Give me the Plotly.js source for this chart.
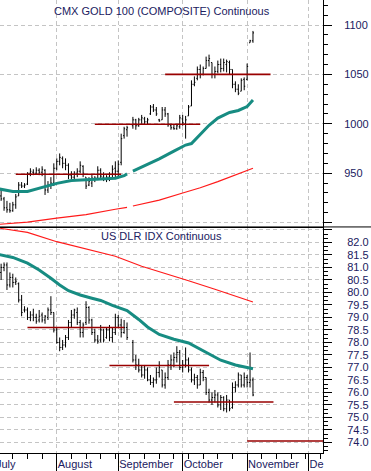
<!DOCTYPE html>
<html>
<head>
<meta charset="utf-8">
<script src="https://cdn.plot.ly/plotly-3.0.1.min.js"></script>
<style>html,body{margin:0;padding:0;background:#fff;}#chart{width:371px;height:471px;}</style>
</head>
<body>
<div id="chart"></div>
<script>
// ---- trading days ----
const dates = [
'2009-07-06','2009-07-07','2009-07-08','2009-07-09','2009-07-10','2009-07-13','2009-07-14','2009-07-15','2009-07-16','2009-07-17',
'2009-07-20','2009-07-21','2009-07-22','2009-07-23','2009-07-24','2009-07-27','2009-07-28','2009-07-29','2009-07-30','2009-07-31',
'2009-08-03','2009-08-04','2009-08-05','2009-08-06','2009-08-07','2009-08-10','2009-08-11','2009-08-12','2009-08-13','2009-08-14',
'2009-08-17','2009-08-18','2009-08-19','2009-08-20','2009-08-21','2009-08-24','2009-08-25','2009-08-26','2009-08-27','2009-08-28',
'2009-08-31','2009-09-01','2009-09-02','2009-09-03','2009-09-04','2009-09-07','2009-09-08','2009-09-09','2009-09-10','2009-09-11',
'2009-09-14','2009-09-15','2009-09-16','2009-09-17','2009-09-18','2009-09-21','2009-09-22','2009-09-23','2009-09-24','2009-09-25',
'2009-09-28','2009-09-29','2009-09-30','2009-10-01','2009-10-02','2009-10-05','2009-10-06','2009-10-07','2009-10-08','2009-10-09',
'2009-10-12','2009-10-13','2009-10-14','2009-10-15','2009-10-16','2009-10-19','2009-10-20','2009-10-21','2009-10-22','2009-10-23',
'2009-10-26','2009-10-27','2009-10-28','2009-10-29','2009-10-30','2009-11-02','2009-11-03','2009-11-04'];

// ---- CMX GOLD (top panel) ----
const goldOpen = [933,927,924,915,913,912,918,927,938,937, 939,950,951,950,953,951,953,933,938,940,
 955,962,965,960,958,948,946,950,952,957, 946,938,940,944,945,953,946,944,946,949,
 955,952,961,988,994,null,998,1004,998,1004, 1005,1002,1010,1017,1014,1004,1004,1014,1010,998,
 996,995,997,1005,1000,1008,1018,1040,1046,1055, 1050,1056,1064,1062,1050,1053,1060,1056,1060,1062,
 1055,1040,1035,1033,1045,1045,1082,1084];
const goldHigh = [935,933,926,922,920,921,929,941,941,940, 951,955,954,956,955,957,954,942,946,960,
 965,970,967,965,960,952,952,955,962,958, 946,946,949,947,957,955,951,948,951,958,
 962,963,990,997,998,null,1007,1005,1006,1009, 1007,1006,1019,1020,1017,1005,1017,1017,1011,1000,
 999,1000,1009,1009,1008,1019,1044,1048,1058,1060, 1058,1068,1070,1062,1058,1064,1066,1066,1065,1064,
 1055,1043,1040,1046,1047,1061,1085,1094];
const goldLow = [925,922,912,910,910,911,914,927,935,935, 938,947,948,949,948,947,928,930,934,937,
 953,958,955,953,944,944,944,946,950,946, 934,937,936,941,943,944,942,941,942,946,
 944,946,958,985,987,null,995,994,997,1000, 999,999,1009,1012,1008,1002,1004,1007,997,994,
 994,994,995,998,985,1008,1018,1038,1044,1046, 1049,1056,1058,1046,1046,1051,1052,1053,1052,1050,
 1036,1032,1029,1033,1034,1044,1082,1082];
const goldClose = [927,924,915,913,912,918,926,938,937,938, 950,952,950,953,951,954,933,938,940,955,
 962,966,960,958,948,946,950,952,958,950, 937,942,945,945,953,947,944,946,949,954,
 952,959,985,995,996,null,1004,998,1004,1006, 1002,1004,1017,1014,1010,1003,1014,1010,999,996,
 995,998,1006,1001,1004,1017,1040,1042,1055,1050, 1056,1064,1066,1050,1053,1060,1056,1062,1063,1055,
 1040,1035,1031,1044,1038,1058,1084,1092];

// gold 50-day (teal) and 200-day (red) averages
const goldMa50Dates = ['2009-07-06','2009-07-13','2009-07-20','2009-07-27','2009-08-03','2009-08-10','2009-08-17','2009-08-24','2009-08-31','2009-09-03','2009-09-04','2009-09-07',
 '2009-09-08','2009-09-14','2009-09-21','2009-09-28','2009-10-02','2009-10-06','2009-10-09','2009-10-14','2009-10-19','2009-10-23','2009-10-28','2009-11-02','2009-11-04'];
const goldMa50 = [934.2,931.5,931.6,935.5,939.7,942.6,943.5,944.1,945.0,947.5,949.3,null,
 952.2,957.5,964.5,972.4,978.5,980.0,989.0,998.5,1005.8,1011.5,1013.5,1017.5,1024.0];
const goldMa200Dates = ['2009-07-06','2009-07-20','2009-08-03','2009-08-17','2009-08-31','2009-09-04','2009-09-07','2009-09-08','2009-09-21','2009-10-01','2009-10-09','2009-10-19','2009-10-28','2009-11-04'];
const goldMa200 = [898.2,900.5,904.5,908.0,913.5,915.5,null,916.8,922.7,930.0,935.3,941.5,949.0,955.0];

// gold horizontal levels
const goldLevels = [949, 999.5, 1050];
const goldLevelStart = ['2009-07-14','2009-08-20','2009-09-23'];
const goldLevelEnd = ['2009-09-02','2009-10-09','2009-11-12'];
const goldTickVals = [900, 950, 1000, 1050, 1100];
const goldTickText = ['', '950', '1000', '1050', '1100'];

// ---- US DLR IDX (bottom panel) ----
const dlrOpen = [81.0,80.8,81.0,81.1,80.3,80.6,80.4,80.35,79.7,79.3, 79.3,79.0,79.1,79.0,78.9,79.1,78.9,79.0,79.3,79.2,
 78.5,78.0,77.8,77.9,78.2,78.8,79.1,79.2,78.8,78.4, 78.8,79.4,78.9,78.4,78.1,78.1,78.5,78.2,78.5,78.2,
 78.4,79.0,78.7,78.4,78.6,null,78.0,77.3,77.1,76.9, 76.7,76.9,76.5,76.4,76.5,76.8,76.9,76.3,76.6,77.1,
 77.3,77.4,77.6,77.0,77.1,77.3,76.9,76.5,76.6,76.3, 76.8,76.6,76.0,75.7,75.8,75.9,75.5,75.8,75.35,75.7,
 75.4,76.2,76.3,76.7,76.3,76.6,76.4,76.5];
const dlrHigh = [81.1,81.15,81.2,81.2,80.8,80.75,80.6,80.4,79.9,79.45, 79.4,79.25,79.35,79.15,79.3,79.2,79.1,79.4,79.85,79.2,
 78.6,78.2,78.1,78.3,78.9,79.3,79.35,79.4,78.9,78.8, 79.65,79.45,78.95,78.55,78.3,78.7,78.55,78.6,78.7,78.6,
 79.15,79.1,78.95,78.9,78.8,null,78.1,77.5,77.35,77.1, 77.1,77.0,76.7,76.6,77.0,77.25,76.9,76.8,77.3,77.5,
 77.6,77.85,77.7,77.3,77.8,77.4,77.0,76.75,76.7,76.95, 76.9,76.6,76.15,76.0,76.1,76.0,75.9,75.85,75.9,75.7,
 76.4,76.45,76.8,76.7,76.8,76.7,77.6,76.6];
const dlrLow = [80.7,80.5,80.85,80.1,80.2,80.2,80.3,79.6,79.05,79.2, 78.9,78.85,78.85,78.75,78.8,78.8,78.75,78.9,79.1,78.4,
 77.95,77.65,77.7,77.8,78.1,78.6,78.95,78.7,78.2,78.2, 78.7,78.75,78.3,78.0,77.95,78.0,78.0,78.15,78.05,78.0,
 78.3,78.6,78.2,78.35,78.1,null,77.2,76.9,76.8,76.6, 76.55,76.45,76.3,76.2,76.35,76.6,76.2,76.15,76.5,76.9,
 77.0,77.2,76.9,76.8,77.0,76.8,76.4,76.3,76.15,76.3, 76.45,75.9,75.6,75.5,75.6,75.4,75.3,75.25,75.2,75.25,
 75.35,76.0,76.2,76.2,76.2,76.2,76.2,75.85];
const dlrClose = [80.8,81.0,81.1,80.3,80.6,80.4,80.45,79.7,79.2,79.3, 79.0,79.1,79.0,78.85,79.05,78.9,79.05,79.3,79.2,78.5,
 78.0,77.8,77.9,78.2,78.8,79.1,79.3,78.8,78.4,78.7, 79.4,78.9,78.4,78.1,78.05,78.5,78.1,78.5,78.2,78.4,
 79.0,78.7,78.4,78.6,78.2,null,77.3,77.1,76.9,76.7, 76.9,76.5,76.4,76.5,76.8,77.0,76.3,76.6,77.1,77.3,
 77.4,77.6,77.0,77.1,77.3,76.9,76.5,76.6,76.3,76.8, 76.6,76.0,75.7,75.8,75.9,75.5,75.8,75.35,75.7,75.35,
 76.2,76.3,76.7,76.3,76.6,76.4,76.5,75.9];

const dlrMa50Dates = ['2009-07-06','2009-07-13','2009-07-20','2009-07-24','2009-07-30','2009-08-04','2009-08-07','2009-08-13','2009-08-19','2009-08-24','2009-08-28',
 '2009-09-02','2009-09-04','2009-09-10','2009-09-15','2009-09-21','2009-09-28','2009-10-05','2009-10-13','2009-10-20','2009-10-27','2009-11-04'];
const dlrMa50 = [81.52,81.40,81.17,80.90,80.57,80.30,80.07,79.90,79.77,79.68,79.48,
 79.36,79.28,78.92,78.62,78.32,78.13,77.98,77.62,77.29,77.10,76.95];
const dlrMa200Dates = ['2009-07-06','2009-07-20','2009-08-03','2009-08-17','2009-08-31','2009-09-11','2009-09-25','2009-10-05','2009-10-16','2009-10-26','2009-11-04'];
const dlrMa200 = [82.58,82.40,82.03,81.73,81.45,81.05,80.70,80.47,80.13,79.88,79.62];

const dlrLevels = [78.6, 77.08, 75.62, 74.06];
const dlrLevelStart = ['2009-07-20','2009-08-27','2009-09-28','2009-11-02'];
const dlrLevelEnd = ['2009-09-03','2009-10-14','2009-11-13','2009-12-31'];
const dlrTickVals = [74.0,74.5,75.0,75.5,76.0,76.5,77.0,77.5,78.0,78.5,79.0,79.5,80.0,80.5,81.0,81.5,82.0,82.5];
const dlrTickText = ['74.0','74.5','75.0','75.5','76.0','76.5','77.0','77.5','78.0','78.5','79.0','79.5','80.0','80.5','81.0','81.5','82.0',''];

// ---- x axis ----
const monthTicks = ['2009-08-03','2009-09-01','2009-10-01','2009-11-02','2009-12-01'];
const monthLabels = ['August','September','October','November','De'];

const TEAL = '#178c82', RED = '#ff1a1a', LEVEL = '#990000', INK = '#202060';
const traces = [];

traces.push({type:'scatter', mode:'lines', x:goldMa200Dates, y:goldMa200, xaxis:'x2', yaxis:'y2', line:{color:RED, width:1.2}, connectgaps:false, hoverinfo:'skip'});
traces.push({type:'scatter', mode:'lines', x:goldMa50Dates, y:goldMa50, xaxis:'x2', yaxis:'y2', line:{color:TEAL, width:3}, connectgaps:false, hoverinfo:'skip'});
goldLevels.forEach((v,i)=>traces.push({type:'scatter', mode:'lines', x:[goldLevelStart[i],goldLevelEnd[i]], y:[v,v], xaxis:'x2', yaxis:'y2', line:{color:LEVEL,width:1.6}, hoverinfo:'skip'}));
traces.push({type:'ohlc', x:dates, open:goldOpen, high:goldHigh, low:goldLow, close:goldClose, xaxis:'x2', yaxis:'y2',
  increasing:{line:{color:'#000',width:1}}, decreasing:{line:{color:'#000',width:1}}, tickwidth:0.35, hoverinfo:'skip'});

traces.push({type:'scatter', mode:'lines', x:dlrMa200Dates, y:dlrMa200, xaxis:'x', yaxis:'y', line:{color:RED, width:1.2}, hoverinfo:'skip'});
traces.push({type:'scatter', mode:'lines', x:dlrMa50Dates, y:dlrMa50, xaxis:'x', yaxis:'y', line:{color:TEAL, width:3}, hoverinfo:'skip'});
dlrLevels.forEach((v,i)=>traces.push({type:'scatter', mode:'lines', x:[dlrLevelStart[i],dlrLevelEnd[i]], y:[v,v], xaxis:'x', yaxis:'y', line:{color:LEVEL,width:1.6}, hoverinfo:'skip'}));
traces.push({type:'ohlc', x:dates, open:dlrOpen, high:dlrHigh, low:dlrLow, close:dlrClose, xaxis:'x', yaxis:'y',
  increasing:{line:{color:'#000',width:1}}, decreasing:{line:{color:'#000',width:1}}, tickwidth:0.35, hoverinfo:'skip'});

const xRange = ['2009-07-06 14:53','2009-12-07 21:50'];
const breaks = [{bounds:['sat','mon']}];
const GRID = '#c4c4c4', DASH = '4px,3px';
const split = 0.499;

const layout = {
  width:371, height:471,
  margin:{l:0, r:48, t:0, b:18},
  paper_bgcolor:'#fff', plot_bgcolor:'#fff',
  showlegend:false, hovermode:false,
  font:{family:'Liberation Sans, Arial, sans-serif', size:11, color:INK},
  xaxis:{type:'date', domain:[0,1], anchor:'y', range:xRange, rangebreaks:breaks,
    rangeslider:{visible:false},
    tickmode:'array', tickvals:monthTicks, ticktext:monthLabels,
    ticks:'outside', ticklen:18, tickcolor:'#000', tickwidth:1,
    ticklabelposition:'outside right', ticklabelstandoff:1,
    showgrid:true, gridcolor:GRID, griddash:DASH, gridwidth:1,
    showline:true, linecolor:'#000', linewidth:1, zeroline:false,
    tickfont:{size:11, color:INK},
    minor:{tickmode:'linear', tick0:'2009-07-06', dtick:604800000, ticks:'outside', ticklen:5, tickcolor:'#000', showgrid:false}},
  xaxis2:{type:'date', domain:[0,1], anchor:'y2', matches:'x', range:xRange, rangebreaks:breaks,
    rangeslider:{visible:false},
    tickmode:'array', tickvals:monthTicks, showticklabels:false, ticks:'',
    showgrid:true, gridcolor:GRID, griddash:DASH, gridwidth:1,
    showline:true, linecolor:'#000', linewidth:1, zeroline:false},
  yaxis:{domain:[0,split], anchor:'x', side:'right', range:[73.58,82.62],
    tickmode:'array', tickvals:dlrTickVals, ticktext:dlrTickText,
    ticks:'outside', ticklen:8, tickcolor:'#000', ticklabelstandoff:13,
    showgrid:true, gridcolor:GRID, griddash:DASH, gridwidth:1,
    showline:true, linecolor:'#000', linewidth:1, zeroline:false,
    tickfont:{size:11, color:INK},
    minor:{tickmode:'linear', tick0:0, dtick:0.5/3, ticks:'outside', ticklen:4, tickcolor:'#000', showgrid:false}},
  yaxis2:{domain:[split,1], anchor:'x2', side:'right', range:[895.6,1125.3],
    tickmode:'array', tickvals:goldTickVals, ticktext:goldTickText,
    ticks:'outside', ticklen:8, tickcolor:'#000', ticklabelstandoff:10,
    showgrid:true, gridcolor:GRID, griddash:DASH, gridwidth:1,
    showline:true, linecolor:'#000', linewidth:1, zeroline:false,
    tickfont:{size:11, color:INK},
    minor:{tickmode:'linear', tick0:0, dtick:10, ticks:'outside', ticklen:4, tickcolor:'#000', showgrid:false}},
  shapes:[{type:'line', xref:'paper', yref:'paper', x0:0, x1:1.2, y0:split, y1:split, line:{color:'#000', width:1}}],
  annotations:[
    {xref:'paper', yref:'paper', x:0.5, y:1-11/453, xanchor:'center', yanchor:'middle', showarrow:false,
     text:'CMX GOLD 100 (COMPOSITE) Continuous', font:{size:11, color:INK}},
    {xref:'paper', yref:'paper', x:0.5, y:1-236/453, xanchor:'center', yanchor:'middle', showarrow:false,
     text:'US DLR IDX Continuous', font:{size:11, color:INK}},
    {xref:'paper', yref:'paper', x:-6/323, y:1-463.5/453, xanchor:'left', yanchor:'middle', showarrow:false,
     text:'July', font:{size:11, color:INK}}
  ]
};

Plotly.newPlot('chart', traces, layout, {staticPlot:true, displayModeBar:false});
</script>
</body>
</html>
